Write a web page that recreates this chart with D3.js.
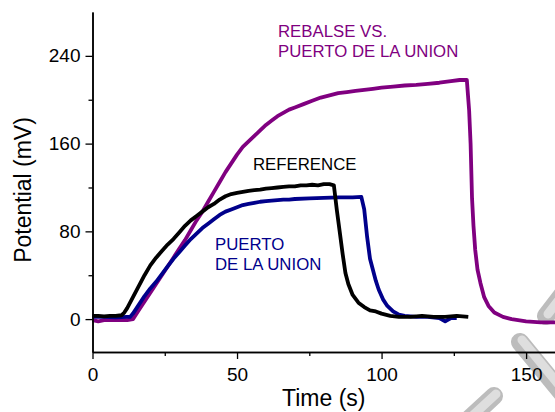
<!DOCTYPE html>
<html>
<head>
<meta charset="utf-8">
<script src="https://cdn.jsdelivr.net/npm/d3@7"></script>
<style>
  html, body { margin: 0; padding: 0; background: #fff; }
  svg { display: block; font-family: Arial, "Liberation Sans", sans-serif; }
</style>
</head>
<body>
<svg id="chart" width="555" height="412"></svg>
<script>
// ---- data ----
const xTicks = [0, 50, 100, 150];
const xMinorTicks = [25, 75, 125];
const yTicks = [0, 80, 160, 240];
const yMinorTicks = [40, 120, 200];

const refTime = [0,2,4,6,8,10,11,12,14,16,18,20,22,24,26,28,30,32,34,36,38,40,42,44,46,48,50,52,54,56,58,60,62,64,66,68,70,72,74,76,78,80,82,83.5,84.5,85.5,86.5,87.5,88.5,90,92,94,96,98,100,103,106,110,114,118,122,126,130];
const refValue = [3,3,2.5,3,3,3.5,6,10,20,30,40,49,56,62,68,73,79,85,90,94,98,102,105,109,112,114,115,116,117,117.5,118,119,119.5,120,120.5,121,121,122,122,122.5,122,123,123,122,100,80,60,42,32,22,15,11,8,7,5,3,2,2,3,2,2,3,2];

const puertoTime = [0,4,8,12,13,14,16,18,20,22,24,26,28,30,32,34,36,38,40,42,44,46,48,50,52,54,56,58,60,62,64,66,68,70,75,80,85,90,93,94,95,96,97,98,99,100.5,102,104,106,108,112,116,120,122,124,126];
const puertoValue = [2,2,1.5,2,2,5,13,21,28,34,41,48,55,61,67,73,78,83,87,91,95,98,100,102,104,105,106,107,107.5,108,108.5,109,109,109.5,110,110.5,111,111,111.5,100,75,55,45,35,27,18,12,7,4,3,2,2,1,-2,1,1];

const rebalseTime = [0,2,4,6,8,10,12,14,16,18,20,22,24,26,28,30,32,34,36,38,40,42,44,46,48,50,52,54,56,58,60,62,64,66,68,70,73,76,79,82,85,88,91,94,97,100,104,108,112,116,120,124,127,129.5,130.3,130.8,131.3,131.8,132.4,133.2,134.2,135.5,137,139,142,145,150,155,160];
const rebalseValue = [-1,-2,-1,-1,-1,-1,-1,0,8,16,24,32,40,48,56,64,72,81,90,98,107,116,125,134,142,150,157,162,167,172,177,181,185,188,191,193,196,199,202,204,206,207,208,209,210,211,212,213,213.5,214.5,215.5,217,218,218,190,160,110,85,63,45,33,20,12,6,2,0,-2,-3,-3];

const seriesNames = ["REFERENCE", "PUERTO DE LA UNION", "REBALSE VS. PUERTO DE LA UNION"];
const seriesColors = ["#000000", "#00008b", "#800080"];

// ---- chart ----
const svg = d3.select("#chart");
const plotLeft = 92.5, plotRight = 555, plotTop = 12, plotBottom = 352;

const x = d3.scaleLinear().domain([0, 160]).range([plotLeft, plotRight]);
const y = d3.scaleLinear().domain([-30, 280]).range([plotBottom, plotTop]);

// faint watermark strokes (bottom-right decoration in the reference)
const wm = svg.append("g").attr("opacity", 0.75);
[[ [520, 342], [566, 398] ], [ [546, 316], [566, 290] ], [ [468, 420], [494, 396] ]].forEach(seg => {
  wm.append("line")
    .attr("x1", seg[0][0]).attr("y1", seg[0][1])
    .attr("x2", seg[1][0]).attr("y2", seg[1][1])
    .attr("stroke", "#a6a6a6").attr("stroke-width", 18).attr("stroke-linecap", "round");
  wm.append("line")
    .attr("x1", seg[0][0] + 2).attr("y1", seg[0][1] - 2)
    .attr("x2", seg[1][0] + 2).attr("y2", seg[1][1] - 2)
    .attr("stroke", "#d4d4d4").attr("stroke-width", 9).attr("stroke-linecap", "round");
});

// lines
const line = d3.line().x(d => x(d[0])).y(d => y(d[1]));
const series = [
  d3.zip(refTime, refValue),
  d3.zip(puertoTime, puertoValue),
  d3.zip(rebalseTime, rebalseValue)
];
// draw order: purple, blue, black on top
[2, 1, 0].forEach(i => {
  svg.append("path")
    .datum(series[i])
    .attr("fill", "none")
    .attr("stroke", seriesColors[i])
    .attr("stroke-width", 3.8)
    .attr("stroke-linejoin", "round")
    .attr("d", line);
});

// axes
const axisStyle = g => {
  g.selectAll("path.domain").attr("stroke", "#000").attr("stroke-width", 1.5);
  g.selectAll(".tick line").attr("stroke", "#000").attr("stroke-width", 1.3);
  g.selectAll("text").attr("fill", "#000").attr("font-size", 19).attr("font-family", "Arial, 'Liberation Sans', sans-serif");
};

svg.append("g")
  .attr("transform", `translate(${plotLeft},0)`)
  .call(d3.axisLeft(y).tickValues(yTicks).tickSize(7).tickSizeOuter(0).tickPadding(5))
  .call(axisStyle);
svg.append("g")
  .attr("transform", `translate(${plotLeft},0)`)
  .call(d3.axisLeft(y).tickValues(yMinorTicks).tickSize(4).tickSizeOuter(0).tickFormat(""))
  .call(axisStyle);

svg.append("g")
  .attr("transform", `translate(0,${plotBottom})`)
  .call(d3.axisBottom(x).tickValues(xTicks).tickSize(7).tickSizeOuter(0).tickPadding(9))
  .call(axisStyle);
svg.append("g")
  .attr("transform", `translate(0,${plotBottom})`)
  .call(d3.axisBottom(x).tickValues(xMinorTicks).tickSize(4).tickSizeOuter(0).tickFormat(""))
  .call(axisStyle);

// axis titles
svg.append("text")
  .attr("x", (plotLeft + plotRight) / 2).attr("y", 406)
  .attr("text-anchor", "middle").attr("font-size", 23).attr("fill", "#000")
  .text("Time (s)");
svg.append("text")
  .attr("transform", `translate(31,${(plotTop + plotBottom) / 2 + 8}) rotate(-90)`)
  .attr("text-anchor", "middle").attr("font-size", 23).attr("fill", "#000")
  .text("Potential (mV)");

// series labels
const labels = [
  { lines: ["REFERENCE"], x: 253, y: 169.5, color: seriesColors[0] },
  { lines: ["PUERTO", "DE LA UNION"], x: 215, y: 250, color: seriesColors[1] },
  { lines: ["REBALSE VS.", "PUERTO DE LA UNION"], x: 278, y: 37, color: seriesColors[2] }
];
labels.forEach(l => {
  l.lines.forEach((t, k) => {
    svg.append("text")
      .attr("x", l.x).attr("y", l.y + k * 20)
      .attr("font-size", 16.8).attr("fill", l.color)
      .text(t);
  });
});
</script>
</body>
</html>
